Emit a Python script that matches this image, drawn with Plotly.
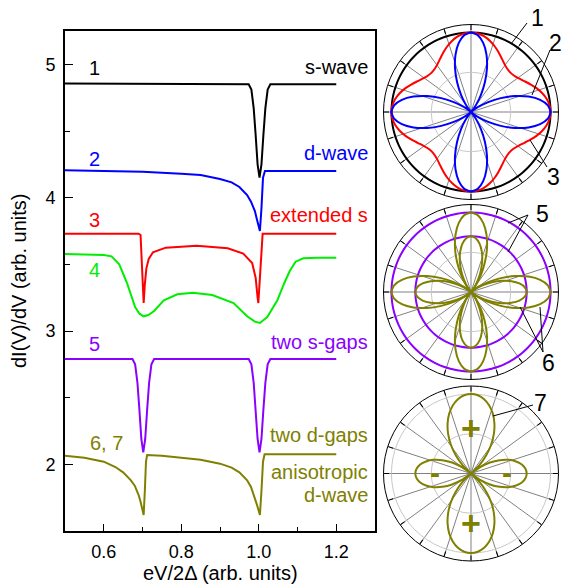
import plotly.graph_objects as go

W, H = 562, 588

# ---------------- main panel data ----------------
x1 = [0.50, 0.60, 0.66, 0.70, 0.95, 0.974, 0.981, 0.987, 0.992, 0.997, 1.002, 1.007, 1.012, 1.017, 1.023, 1.030, 1.04, 1.20]
y1 = [4.857, 4.856, 4.852, 4.85, 4.85, 4.85, 4.81, 4.67, 4.47, 4.25, 4.15, 4.25, 4.47, 4.67, 4.81, 4.85, 4.85, 4.85]

x2 = [0.50, 0.60, 0.70, 0.80, 0.85, 0.90, 0.93, 0.95, 0.97, 0.98, 0.99, 0.995, 1.000, 1.003, 1.007, 1.011, 1.016, 1.20]
y2 = [4.205, 4.20, 4.195, 4.18, 4.17, 4.14, 4.115, 4.08, 4.02, 3.97, 3.90, 3.84, 3.77, 3.75, 3.92, 4.15, 4.20, 4.20]

x3 = [0.50, 0.690, 0.695, 0.698, 0.701, 0.703, 0.706, 0.710, 0.716, 0.727, 0.76, 0.84, 0.92, 0.96, 0.983, 0.992, 0.997, 0.999, 1.003, 1.007, 1.010, 1.20]
y3 = [3.73, 3.73, 3.72, 3.55, 3.30, 3.21, 3.35, 3.47, 3.54, 3.59, 3.625, 3.64, 3.62, 3.58, 3.51, 3.40, 3.25, 3.21, 3.40, 3.65, 3.73, 3.73]

x4 = [0.50, 0.58, 0.60, 0.62, 0.64, 0.66, 0.673, 0.681, 0.692, 0.703, 0.715, 0.73, 0.755, 0.79, 0.83, 0.88, 0.935, 0.97, 0.99, 1.003, 1.022, 1.048, 1.066, 1.08, 1.095, 1.115, 1.15, 1.20]
y4 = [3.577, 3.575, 3.57, 3.56, 3.50, 3.36, 3.245, 3.18, 3.13, 3.11, 3.12, 3.15, 3.23, 3.275, 3.287, 3.27, 3.21, 3.11, 3.07, 3.06, 3.105, 3.23, 3.36, 3.45, 3.52, 3.545, 3.55, 3.55]

x5 = [0.50, 0.674, 0.681, 0.687, 0.692, 0.697, 0.702, 0.707, 0.712, 0.717, 0.723, 0.730,
      0.974, 0.981, 0.987, 0.992, 0.997, 1.002, 1.007, 1.012, 1.017, 1.023, 1.030, 1.20]
y5 = [2.79, 2.79, 2.75, 2.61, 2.41, 2.19, 2.09, 2.19, 2.41, 2.61, 2.75, 2.79,
      2.79, 2.75, 2.61, 2.41, 2.19, 2.09, 2.19, 2.41, 2.61, 2.75, 2.79, 2.79]

x6 = [0.50, 0.55, 0.60, 0.63, 0.65, 0.67, 0.68, 0.69, 0.695, 0.700, 0.703, 0.706, 0.709, 0.712, 0.75, 0.80, 0.85, 0.90,
      0.93, 0.95, 0.97, 0.98, 0.99, 0.995, 1.000, 1.003, 1.007, 1.011, 1.015, 1.20]
y6 = [2.065, 2.05, 2.02, 1.98, 1.94, 1.88, 1.84, 1.77, 1.72, 1.65, 1.62, 1.80, 2.02, 2.07, 2.065, 2.05, 2.035, 2.005,
      1.975, 1.94, 1.88, 1.83, 1.75, 1.70, 1.65, 1.62, 1.80, 2.02, 2.075, 2.075]

colors = ["#000000", "#0000FF", "#FF0000", "#00EE00", "#8B00FF", "#808000"]

num_labels = ["1", "2", "3", "4", "5", "6, 7"]
num_x = [0.577, 0.577, 0.577, 0.577, 0.577, 0.607]
num_y = [4.97, 4.29, 3.83, 3.46, 2.90, 2.16]

name_labels = ["s-wave", "d-wave", "extended s", "two s-gaps", "two d-gaps", "anisotropic", "d-wave"]
name_y = [4.98, 4.335, 3.87, 2.92, 2.218, 1.941, 1.773]
name_colors = ["#000000", "#0000FF", "#FF0000", "#8B00FF", "#808000", "#808000", "#808000"]

# ---------------- polar data (angles every 5 degrees) ----------------
ang_step = 5
# one octant, 0..45 deg
s_wave_oct = [1.0] * 10
d_wave_oct = [1.0, 0.970, 0.883, 0.750, 0.587, 0.413, 0.250, 0.117, 0.030, 0.0]
ext_s_oct = [1.0, 0.991, 0.965, 0.925, 0.876, 0.824, 0.775, 0.735, 0.709, 0.70]
gap_small_oct = [0.7] * 10
d_big_oct = [1.0, 0.970, 0.883, 0.750, 0.587, 0.413, 0.250, 0.117, 0.030, 0.0]
d_small_oct = [0.70, 0.679, 0.618, 0.525, 0.411, 0.289, 0.175, 0.082, 0.021, 0.0]
# one quadrant, 0..90 deg (horizontal lobe negative, vertical lobe positive)
aniso_quad = [0.70, 0.687, 0.649, 0.586, 0.501, 0.396, 0.275, 0.141, 0.0, 0.15,
              0.298, 0.441, 0.575, 0.696, 0.801, 0.886, 0.949, 0.987, 1.0]


def from_octant(o):
    q = o + o[-2::-1]
    full = q + q[1:] + q[1:] + q[1:]
    return full, [ang_step * i for i in range(len(full))]


def from_quadrant(q):
    h = q + q[-2::-1]
    full = h + h[1:]
    return full, [ang_step * i for i in range(len(full))]


FONT = "Arial, Liberation Sans, sans-serif"

fig = go.Figure()
for xs, ys, c in zip([x1, x2, x3, x4, x5, x6], [y1, y2, y3, y4, y5, y6], colors):
    fig.add_trace(go.Scatter(x=xs, y=ys, mode="lines", line=dict(color=c, width=2),
                             showlegend=False, hoverinfo="skip"))

polar_sets = [
    ("polar", [(s_wave_oct, "#000000"), (ext_s_oct, "#FF0000"), (d_wave_oct, "#0000FF")], None),
    ("polar2", [(s_wave_oct, "#8B00FF"), (gap_small_oct, "#8B00FF"), (d_big_oct, "#808000"), (d_small_oct, "#808000")], None),
    ("polar3", [], aniso_quad),
]
for sub, curves, quad in polar_sets:
    for o, c in curves:
        r, th = from_octant(o)
        fig.add_trace(go.Scatterpolar(r=r, theta=th, mode="lines", subplot=sub,
                                      line=dict(color=c, width=2, shape="spline", smoothing=0.6),
                                      showlegend=False, hoverinfo="skip"))
    if quad is not None:
        r, th = from_quadrant(quad)
        fig.add_trace(go.Scatterpolar(r=r, theta=th, mode="lines", subplot=sub,
                                      line=dict(color="#808000", width=2, shape="spline", smoothing=0.6),
                                      showlegend=False, hoverinfo="skip"))


def px(x):
    return x / W


def py(y):
    return 1 - y / H


polar_common = dict(
    bgcolor="white",
    angularaxis=dict(rotation=0, direction="counterclockwise", dtick=18, showticklabels=False,
                     ticks="inside", ticklen=5, tickcolor="black", linecolor="black", linewidth=1,
                     gridcolor="#808080", gridwidth=1, showline=True),
    radialaxis=dict(range=[0, 1.1], tickvals=[0.5, 1.0], showticklabels=False, ticks="",
                    showline=False, gridcolor="#c8c8c8", gridwidth=1),
)
R = 87.5
centers = [(471, 112), (471, 292), (471, 473.5)]
polar_layouts = {}
for name, (cx, cy) in zip(["polar", "polar2", "polar3"], centers):
    d = dict(polar_common)
    d["domain"] = dict(x=[px(cx - R), px(cx + R)], y=[py(cy + R), py(cy - R)])
    polar_layouts[name] = d

annotations = []
for t, xx, yy, c in zip(num_labels, num_x, num_y, colors):
    annotations.append(dict(x=xx, y=yy, xref="x", yref="y", text=t, showarrow=False,
                            font=dict(size=20, color=c, family=FONT), xanchor="center", yanchor="middle"))
for t, yy, c in zip(name_labels, name_y, name_colors):
    annotations.append(dict(x=1.288, y=yy, xref="x", yref="y", text=t, showarrow=False,
                            font=dict(size=20, color=c, family=FONT), xanchor="right", yanchor="middle"))

# axis titles
annotations.append(dict(x=px(220), y=py(573), xref="paper", yref="paper", text="eV/2Δ (arb. units)",
                        showarrow=False, xanchor="center", yanchor="middle",
                        font=dict(size=20, color="black", family=FONT)))
annotations.append(dict(x=px(19), y=py(281), xref="paper", yref="paper", text="dI(V)/dV (arb. units)",
                        showarrow=False, textangle=-90, xanchor="center", yanchor="middle",
                        font=dict(size=20, color="black", family=FONT)))

# polar labels
for t, (lx, ly) in zip(["1", "2", "3", "5", "6", "7"],
                       [(537, 18), (555, 43), (553, 177), (542, 214), (548, 363), (540, 403)]):
    annotations.append(dict(x=px(lx), y=py(ly), xref="paper", yref="paper", text=t, showarrow=False,
                            xanchor="center", yanchor="middle",
                            font=dict(size=23, color="black", family=FONT)))
# signs
for t, (lx, ly), sz in zip(["+", "+", "-", "-"], [(471, 428), (471, 523), (435, 473), (507, 473)],
                           [34, 34, 30, 30]):
    annotations.append(dict(x=px(lx), y=py(ly), xref="paper", yref="paper", text="<b>" + t + "</b>",
                            showarrow=False, xanchor="center", yanchor="middle",
                            font=dict(size=sz, color="#808000", family=FONT)))

shapes = []
for (xa, ya, xb, yb) in [(527, 23, 511, 44), (550, 50, 532, 95), (547, 167, 530, 140),
                         (528, 215, 508, 223), (528, 215, 508, 252),
                         (543, 352, 520, 307), (543, 352, 540, 307),
                         (533, 405, 493, 416)]:
    shapes.append(dict(type="line", xref="paper", yref="paper", x0=px(xa), y0=py(ya), x1=px(xb), y1=py(yb),
                       line=dict(color="black", width=1)))

fig.update_layout(
    width=W, height=H, margin=dict(l=0, r=0, t=0, b=0),
    paper_bgcolor="white", plot_bgcolor="white",
    font=dict(family=FONT, size=18, color="black"),
    xaxis=dict(domain=[px(65), px(375)], range=[0.5, 1.3], dtick=0.2, tick0=0, tickformat=".1f",
               ticks="inside", ticklen=7, tickwidth=1.3, tickcolor="black",
               minor=dict(ticks="inside", ticklen=4, dtick=0.1, tickcolor="black", tickwidth=1.3, showgrid=False),
               showline=True, linecolor="black", linewidth=1.6, mirror=True, showgrid=False, zeroline=False,
               tickfont=dict(size=18), ticklabelstandoff=4),
    yaxis=dict(domain=[py(531), py(31)], range=[1.5, 5.25], dtick=1, tick0=0,
               ticks="inside", ticklen=8, tickwidth=1.3, tickcolor="black",
               minor=dict(ticks="inside", ticklen=5, dtick=0.5, tickcolor="black", tickwidth=1.3, showgrid=False),
               showline=True, linecolor="black", linewidth=1.6, mirror=True, showgrid=False, zeroline=False,
               tickfont=dict(size=18), ticklabelstandoff=4),
    annotations=annotations,
    shapes=shapes,
    **polar_layouts,
)

fig.write_html("out.html")
